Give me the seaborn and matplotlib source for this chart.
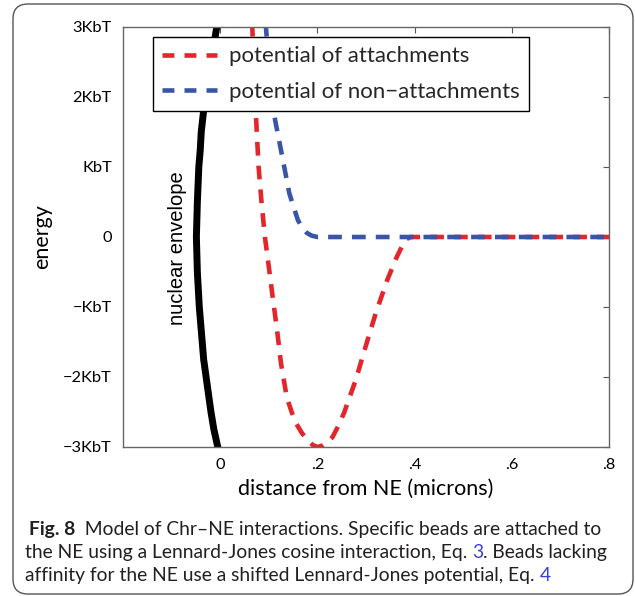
import matplotlib
matplotlib.use("Agg")
import matplotlib.pyplot as plt
import seaborn as sns
from matplotlib.patches import FancyBboxPatch
from matplotlib.transforms import IdentityTransform

# ---------------- data ----------------
attach_x = [0.062, 0.066, 0.070, 0.074, 0.079, 0.085, 0.092, 0.099, 0.108, 0.117,
            0.125, 0.137, 0.147, 0.156, 0.168, 0.180, 0.190, 0.200, 0.210, 0.220,
            0.231, 0.243, 0.255, 0.279, 0.299, 0.320, 0.344, 0.363, 0.375, 0.383,
            0.392, 0.600, 0.800]
attach_y = [4.0, 3.0, 2.3, 1.67, 1.0, 0.5, 0.0, -0.37, -0.86, -1.33,
            -1.8, -2.29, -2.5, -2.66, -2.8, -2.9, -2.97, -3.0, -2.98, -2.93,
            -2.86, -2.7, -2.51, -2.04, -1.57, -1.09, -0.61, -0.29, -0.12, -0.03,
            0.0, 0.0, 0.0]

nonattach_x = [0.090, 0.094, 0.100, 0.106, 0.113, 0.122, 0.129, 0.142, 0.150, 0.160,
               0.170, 0.178, 0.188, 0.200, 0.500, 0.800]
nonattach_y = [4.0, 3.0, 2.5, 2.0, 1.67, 1.35, 1.1, 0.63, 0.45, 0.24,
               0.12, 0.06, 0.02, 0.0, 0.0, 0.0]

envelope_x = [-0.002, -0.007, -0.013, -0.019, -0.025, -0.031, -0.035, -0.039, -0.041,
              -0.044, -0.047, -0.049, -0.047, -0.043, -0.040, -0.037, -0.034, -0.029,
              -0.024, -0.019, -0.013, -0.005, 0.000]
envelope_y = [3.3, 3.0, 2.75, 2.5, 2.25, 2.0, 1.75, 1.5, 1.25,
              1.0, 0.5, 0.0, -0.5, -1.0, -1.25, -1.5, -1.75, -2.0,
              -2.25, -2.5, -2.75, -3.0, -3.2]

series_labels = ["potential of attachments", "potential of non\u2212attachments"]
x_ticks = [0.0, 0.2, 0.4, 0.6, 0.8]
x_ticklabels = ["0", ".2", ".4", ".6", ".8"]
y_ticks = [-3, -2, -1, 0, 1, 2, 3]
y_ticklabels = ["\u22123KbT", "\u22122KbT", "\u2212KbT", "0", "KbT", "2KbT", "3KbT"]
x_label = "distance from NE (microns)"
y_label = "energy"
envelope_label = "nuclear envelope"

caption_lines = [
    [("Fig. 8", "bold", "k"), ("  Model of Chr\u2013NE interactions. Specific beads are attached to", "normal", "k")],
    [("the NE using a Lennard-Jones cosine interaction, Eq. ", "normal", "k"), ("3", "normal", "b"),
     (". Beads lacking", "normal", "k")],
    [("affinity for the NE use a shifted Lennard-Jones potential, Eq. ", "normal", "k"), ("4", "normal", "b")],
]

# ---------------- style ----------------
sns.set_style("white")
FONT = ["Lato", "DejaVu Sans"]
plt.rcParams["font.family"] = FONT
plt.rcParams["axes.unicode_minus"] = True

RED = "#e2262c"
BLUE = "#3a55a6"
TXT = "#231f20"
LINK = "#3a3ee0"
W, H = 635, 596

fig = plt.figure(figsize=(W / 100, H / 100), dpi=100)
ax = fig.add_axes([123 / W, 1 - 447 / H, (609 - 123) / W, (447 - 27) / H])

dash = (0, (3.0, 2.2))
sns.lineplot(x=envelope_x, y=envelope_y, sort=False, estimator=None, color="black",
             lw=5.0, ax=ax, legend=False, solid_capstyle="butt")
sns.lineplot(x=attach_x, y=attach_y, sort=False, estimator=None, color=RED,
             lw=3.3, ax=ax, legend=False, linestyle=dash)
sns.lineplot(x=nonattach_x, y=nonattach_y, sort=False, estimator=None, color=BLUE,
             lw=3.3, ax=ax, legend=False, linestyle=dash)

ax.set_xlim(-0.2, 0.8)
ax.set_ylim(-3, 3)
ax.set_xticks(x_ticks)
ax.set_xticklabels(x_ticklabels)
ax.set_yticks(y_ticks)
ax.set_yticklabels(y_ticklabels)
ax.tick_params(direction="in", length=4, width=0.8, color="#555555", top=True, right=True,
               labelsize=11.8, pad=8, labelcolor="black")
for s in ax.spines.values():
    s.set_visible(True)
    s.set_color("#666666")
    s.set_linewidth(1.0)

ax.set_xlabel(x_label, fontsize=15.5, labelpad=5, color="black")
ax.set_ylabel(y_label, fontsize=15.5, labelpad=8, color="black")

ax.text(-0.088, -0.16, envelope_label, rotation=90, ha="center", va="center",
        fontsize=14.5, family=["Liberation Sans", "DejaVu Sans"], color="black")

handles = [ax.lines[1], ax.lines[2]]
leg = ax.legend(handles, series_labels, loc="upper left", bbox_to_anchor=(0.062, 0.976),
                borderaxespad=0, fontsize=16, frameon=True, fancybox=False,
                framealpha=1, edgecolor="black", handlelength=2.45, handletextpad=0.55,
                borderpad=0.42, labelspacing=0.68)
leg.get_frame().set_linewidth(1.0)
for ln in leg.get_lines():
    ln.set_linestyle((0, (2.6, 2.2)))

# ---------------- caption box & text ----------------
box = FancyBboxPatch((13, H - 594), 620, 590, boxstyle="round,pad=0,rounding_size=15",
                     transform=IdentityTransform(), facecolor="none", edgecolor="#555555", lw=1.0)
fig.add_artist(box)

renderer = fig.canvas.get_renderer()


def width_px(s, weight, size):
    t = fig.text(0, 0, s + "x", fontsize=size, fontweight=weight)
    t2 = fig.text(0, 0, "x", fontsize=size, fontweight=weight)
    w = t.get_window_extent(renderer).width - t2.get_window_extent(renderer).width
    t.remove(); t2.remove()
    return w


# fit caption size so that line 2 spans the reference width
ref_size = 10.0
line2 = "".join(p[0] for p in caption_lines[1])
cap_size = ref_size * 583 / width_px(line2, "normal", ref_size)

starts = [29, 25, 25]
baselines = [535, 558, 581]
for parts, x0, yb in zip(caption_lines, starts, baselines):
    x = x0
    for s, weight, col in parts:
        fig.text(x / W, 1 - yb / H, s, fontsize=cap_size, fontweight=weight,
                 color=TXT if col == "k" else LINK, va="baseline", ha="left")
        x += width_px(s, weight, cap_size)

fig.savefig("out.png", dpi=100)
